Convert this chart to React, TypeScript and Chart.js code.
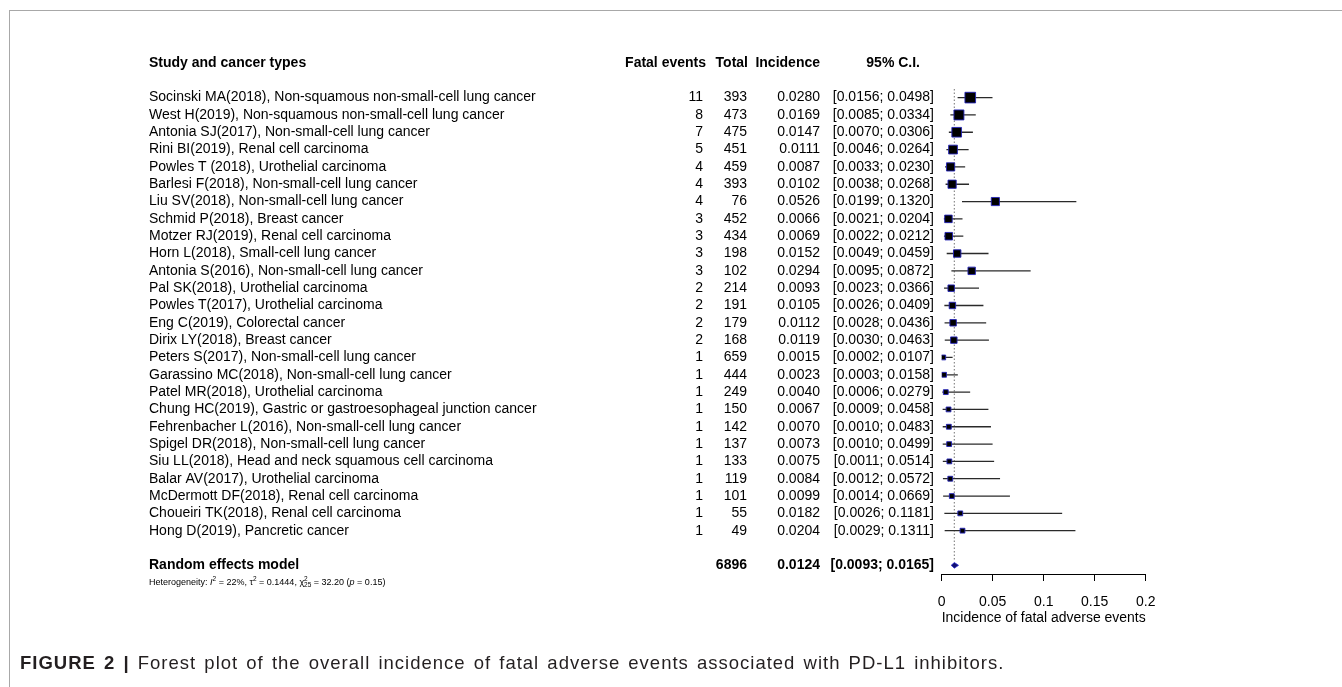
import React, { useEffect, useRef } from "react";
import { Chart, registerables } from "chart.js";

Chart.register(...registerables);

const FONT = "'Liberation Sans', Arial, Helvetica, sans-serif";

const studies = [
  "Socinski MA(2018), Non-squamous non-small-cell lung cancer",
  "West H(2019), Non-squamous non-small-cell lung cancer",
  "Antonia SJ(2017), Non-small-cell lung cancer",
  "Rini BI(2019), Renal cell carcinoma",
  "Powles T (2018), Urothelial carcinoma",
  "Barlesi F(2018), Non-small-cell lung cancer",
  "Liu SV(2018), Non-small-cell lung cancer",
  "Schmid P(2018), Breast cancer",
  "Motzer RJ(2019), Renal cell carcinoma",
  "Horn L(2018), Small-cell lung cancer",
  "Antonia S(2016), Non-small-cell lung cancer",
  "Pal SK(2018), Urothelial carcinoma",
  "Powles T(2017), Urothelial carcinoma",
  "Eng C(2019), Colorectal cancer",
  "Dirix LY(2018), Breast cancer",
  "Peters S(2017), Non-small-cell lung cancer",
  "Garassino MC(2018), Non-small-cell lung cancer",
  "Patel MR(2018), Urothelial carcinoma",
  "Chung HC(2019), Gastric or gastroesophageal junction cancer",
  "Fehrenbacher L(2016), Non-small-cell lung cancer",
  "Spigel DR(2018), Non-small-cell lung cancer",
  "Siu LL(2018), Head and neck squamous cell carcinoma",
  "Balar AV(2017), Urothelial carcinoma",
  "McDermott DF(2018), Renal cell carcinoma",
  "Choueiri TK(2018), Renal cell carcinoma",
  "Hong D(2019), Pancretic cancer",
];

const fatalEvents = [11, 8, 7, 5, 4, 4, 4, 3, 3, 3, 3, 2, 2, 2, 2, 1, 1, 1, 1, 1, 1, 1, 1, 1, 1, 1];
const totals = [393, 473, 475, 451, 459, 393, 76, 452, 434, 198, 102, 214, 191, 179, 168, 659, 444, 249, 150, 142, 137, 133, 119, 101, 55, 49];
const incidence = [0.028, 0.0169, 0.0147, 0.0111, 0.0087, 0.0102, 0.0526, 0.0066, 0.0069, 0.0152, 0.0294, 0.0093, 0.0105, 0.0112, 0.0119, 0.0015, 0.0023, 0.004, 0.0067, 0.007, 0.0073, 0.0075, 0.0084, 0.0099, 0.0182, 0.0204];
const ciLower = [0.0156, 0.0085, 0.007, 0.0046, 0.0033, 0.0038, 0.0199, 0.0021, 0.0022, 0.0049, 0.0095, 0.0023, 0.0026, 0.0028, 0.003, 0.0002, 0.0003, 0.0006, 0.0009, 0.001, 0.001, 0.0011, 0.0012, 0.0014, 0.0026, 0.0029];
const ciUpper = [0.0498, 0.0334, 0.0306, 0.0264, 0.023, 0.0268, 0.132, 0.0204, 0.0212, 0.0459, 0.0872, 0.0366, 0.0409, 0.0436, 0.0463, 0.0107, 0.0158, 0.0279, 0.0458, 0.0483, 0.0499, 0.0514, 0.0572, 0.0669, 0.1181, 0.1311];
// estimated study weights (%), read from the square sizes
const weights = [9.2, 8.1, 7.6, 6.3, 5.5, 5.5, 5.4, 4.6, 4.6, 4.5, 4.5, 3.4, 3.4, 3.4, 3.4, 1.9, 1.9, 1.9, 1.9, 1.9, 1.9, 1.9, 1.9, 1.9, 1.9, 1.9];

const headers = ["Study and cancer types", "Fatal events", "Total", "Incidence", "95% C.I."];
const summaryLabel = "Random effects model";
const summaryTotal = 6896;
const summaryIncidence = 0.0124;
const summaryLower = 0.0093;
const summaryUpper = 0.0165;

const xTicks = [0, 0.05, 0.1, 0.15, 0.2];
const xTitle = "Incidence of fatal adverse events";

// layout (rows are y-scale units)
const HEADER_ROW = -2;
const SUMMARY_ROW = 27;
const HET_ROW = 28.0;
const COL_LABEL = 149;
const COL_EVENTS = 703;
const COL_EVENTS_HEAD = 706;
const COL_TOTAL = 747;
const COL_INC = 820;
const COL_CI = 934;
const COL_CI_HEAD = 920;
const SQUARE_K = 3.5;

const tablePlugin = {
  id: "forestTable",
  afterDraw(chart: any) {
    const ctx = chart.ctx as CanvasRenderingContext2D;
    const y = chart.scales.y;
    ctx.save();
    ctx.fillStyle = "#000";
    ctx.textBaseline = "middle";

    // header
    ctx.font = `bold 14px ${FONT}`;
    const hy = y.getPixelForValue(HEADER_ROW);
    ctx.textAlign = "left";
    ctx.fillText(headers[0], COL_LABEL, hy);
    ctx.textAlign = "right";
    ctx.fillText(headers[1], COL_EVENTS_HEAD, hy);
    ctx.fillText(headers[2], COL_TOTAL + 1, hy);
    ctx.fillText(headers[3], COL_INC, hy);
    ctx.fillText(headers[4], COL_CI_HEAD, hy);

    // rows
    ctx.font = `14px ${FONT}`;
    studies.forEach((s, i) => {
      const py = y.getPixelForValue(i);
      ctx.textAlign = "left";
      ctx.fillText(s, COL_LABEL, py);
      ctx.textAlign = "right";
      ctx.fillText(String(fatalEvents[i]), COL_EVENTS, py);
      ctx.fillText(String(totals[i]), COL_TOTAL, py);
      ctx.fillText(incidence[i].toFixed(4), COL_INC, py);
      ctx.fillText(`[${ciLower[i].toFixed(4)}; ${ciUpper[i].toFixed(4)}]`, COL_CI, py);
    });

    // summary
    ctx.font = `bold 14px ${FONT}`;
    const sy = y.getPixelForValue(SUMMARY_ROW);
    ctx.textAlign = "left";
    ctx.fillText(summaryLabel, COL_LABEL, sy);
    ctx.textAlign = "right";
    ctx.fillText(String(summaryTotal), COL_TOTAL, sy);
    ctx.fillText(summaryIncidence.toFixed(4), COL_INC, sy);
    ctx.fillText(`[${summaryLower.toFixed(4)}; ${summaryUpper.toFixed(4)}]`, COL_CI, sy);

    // heterogeneity line
    const ty = y.getPixelForValue(HET_ROW);
    const base = 9;
    const small = 6.5;
    type Part = { t: string; size?: number; italic?: boolean; dy?: number };
    const parts: Part[] = [
      { t: "Heterogeneity: " },
      { t: "I", italic: true },
      { t: "2", size: small, dy: -3.5 },
      { t: " = 22%, \u03c4" },
      { t: "2", size: small, dy: -3.5 },
      { t: " = 0.1444, \u03c7" },
      { t: "2", size: small, dy: -3.5 },
      { t: " = 32.20 (" },
      { t: "p", italic: true },
      { t: " = 0.15)" },
    ];
    ctx.textAlign = "left";
    let x = COL_LABEL;
    parts.forEach((p, idx) => {
      ctx.font = `${p.italic ? "italic " : ""}${p.size || base}px ${FONT}`;
      ctx.fillText(p.t, x, ty + (p.dy || 0));
      let w = ctx.measureText(p.t).width;
      if (idx === 6) {
        // subscript 25 under the superscript 2
        ctx.fillText("25", x, ty + 3);
        w = Math.max(w, ctx.measureText("25").width);
      }
      x += w;
    });

    ctx.restore();
  },
  afterDatasetsDraw(chart: any) {
    const ctx = chart.ctx as CanvasRenderingContext2D;
    const xs = chart.scales.x;
    const y = chart.scales.y;
    const py = y.getPixelForValue(SUMMARY_ROW);
    const x0 = xs.getPixelForValue(summaryLower);
    const xm = xs.getPixelForValue(summaryIncidence);
    const x1 = xs.getPixelForValue(summaryUpper);
    ctx.save();
    ctx.beginPath();
    ctx.moveTo(x0, py);
    ctx.lineTo(xm, py - 2.8);
    ctx.lineTo(x1, py);
    ctx.lineTo(xm, py + 2.8);
    ctx.closePath();
    ctx.fillStyle = "#101070";
    ctx.fill();
    ctx.strokeStyle = "#2a2ad0";
    ctx.lineWidth = 0.8;
    ctx.stroke();
    ctx.restore();
  },
};

export default function App() {
  const ref = useRef<HTMLCanvasElement | null>(null);

  useEffect(() => {
    if (!ref.current) return;
    Chart.defaults.font.family = FONT;

    const ciSets = studies.map((_, i) => ({
      type: "line" as const,
      data: [
        { x: ciLower[i], y: i },
        { x: ciUpper[i], y: i },
      ],
      borderColor: "#2a2a2a",
      borderWidth: 1.3,
      pointRadius: 0,
      showLine: true,
      order: 2,
    }));

    const chart = new Chart(ref.current, {
      type: "scatter",
      data: {
        datasets: [
          {
            type: "scatter",
            data: incidence.map((v, i) => ({ x: v, y: i })),
            pointStyle: "rect",
            pointRadius: weights.map((w) => (SQUARE_K * Math.sqrt(w)) / Math.SQRT2),
            pointHoverRadius: weights.map((w) => (SQUARE_K * Math.sqrt(w)) / Math.SQRT2),
            backgroundColor: "#000",
            borderColor: "#2424b8",
            borderWidth: 0.9,
            order: 0,
          } as any,
          ...ciSets,
          {
            type: "line",
            data: [
              { x: summaryIncidence, y: -0.5 },
              { x: summaryIncidence, y: 26.75 },
            ],
            borderColor: "#8a8a8a",
            borderWidth: 1.2,
            borderDash: [1.5, 2],
            pointRadius: 0,
            order: 3,
          } as any,
        ],
      },
      options: {
        animation: false,
        responsive: false,
        maintainAspectRatio: false,
        layout: { padding: { left: 941.7, right: 196.3, top: 54.3, bottom: 60.8 } },
        plugins: { legend: { display: false }, tooltip: { enabled: false } },
        events: [],
        scales: {
          x: {
            type: "linear",
            min: 0,
            max: 0.2,
            afterBuildTicks: (axis: any) => {
              axis.ticks = xTicks.map((v) => ({ value: v }));
            },
            ticks: {
              font: { size: 14, family: FONT },
              color: "#000",
              padding: 12.3,
              callback: (v: any) => String(v),
            },
            grid: {
              drawOnChartArea: false,
              drawTicks: true,
              tickLength: 7,
              color: "#000",
              tickColor: "#000",
              tickWidth: 1,
            },
            border: { display: true, color: "#000", width: 1 },
            title: {
              display: true,
              text: xTitle,
              font: { size: 14, family: FONT },
              color: "#000",
              padding: { top: -13, bottom: 0 },
            },
          },
          y: {
            type: "linear",
            min: -2.5,
            max: 27.5,
            reverse: true,
            display: false,
          },
        },
      },
      plugins: [tablePlugin],
    } as any);

    return () => chart.destroy();
  }, []);

  return (
    <div style={{ position: "fixed", left: 0, top: 0, width: 1342, height: 687, background: "#fff", overflow: "hidden" }}>
      <div
        style={{
          position: "absolute",
          left: 9,
          top: 10,
          right: -2,
          bottom: -2,
          borderTop: "1px solid #a8a8a8",
          borderLeft: "1px solid #a8a8a8",
        }}
      />
      <canvas ref={ref} width={1342} height={687} style={{ position: "absolute", left: 0, top: 0, display: "block" }} />
      <div
        style={{
          position: "absolute",
          left: 20,
          top: 652,
          fontFamily: FONT,
          fontSize: 18.5,
          lineHeight: "22px",
          color: "#231f20",
          whiteSpace: "nowrap",
          letterSpacing: 1,
          wordSpacing: 2,
        }}
      >
        <span style={{ fontWeight: "bold" }}>FIGURE 2 |</span> Forest plot of the overall incidence of fatal adverse events associated with PD-L1 inhibitors.
      </div>
    </div>
  );
}
